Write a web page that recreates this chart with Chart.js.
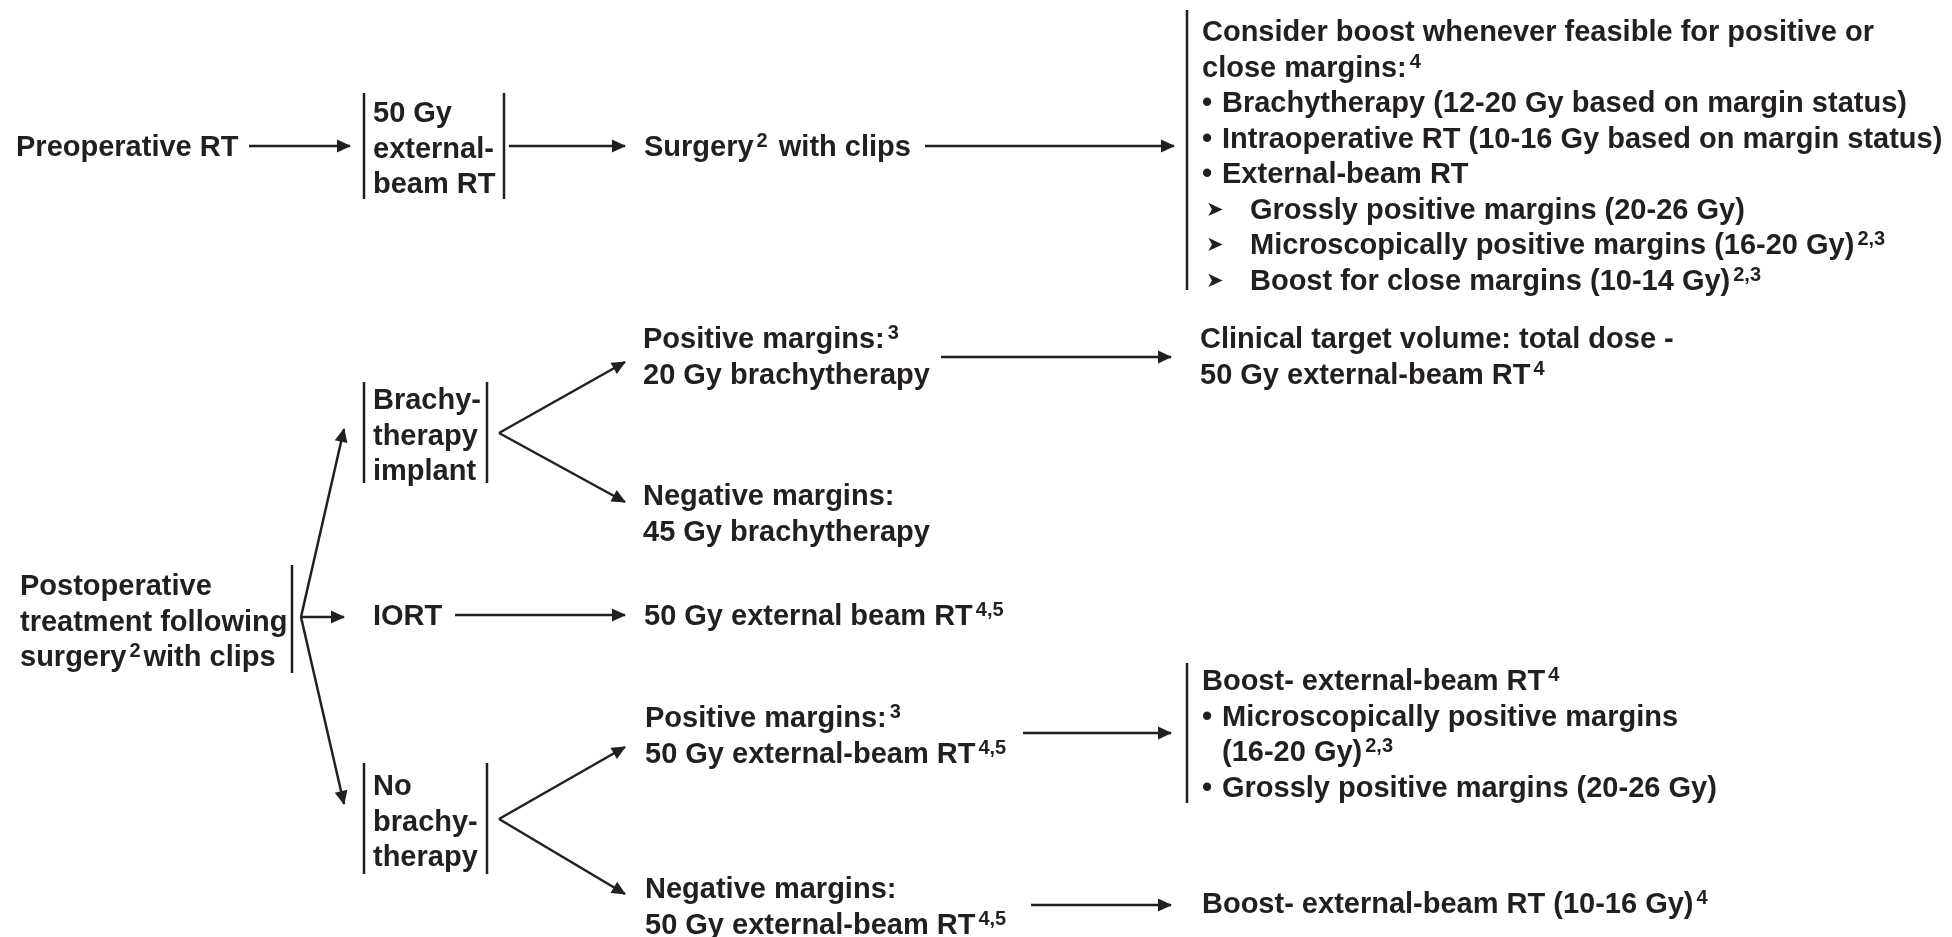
<!DOCTYPE html>
<html>
<head>
<meta charset="utf-8">
<script src="https://cdn.jsdelivr.net/npm/chart.js@4"></script>
<style>
  html, body { margin: 0; padding: 0; background: #fff; }
  canvas { display: block; }
</style>
</head>
<body>
<canvas id="flowChart" width="1952" height="937"></canvas>
<script>
// text of every node, one entry per node; ^{..} marks a superscript
const nodeText = [
    ['Preoperative RT'],
    ['50 Gy', 'external-', 'beam RT'],
    ['Surgery^{2} with clips'],
    ['Consider boost whenever feasible for positive or', 'close margins:^{4}',
     '• Brachytherapy (12-20 Gy based on margin status)',
     '• Intraoperative RT (10-16 Gy based on margin status)',
     '• External-beam RT',
     '➤ Grossly positive margins (20-26 Gy)',
     '➤ Microscopically positive margins (16-20 Gy)^{2,3}',
     '➤ Boost for close margins (10-14 Gy)^{2,3}'],
    ['Brachy-', 'therapy', 'implant'],
    ['Positive margins:^{3}', '20 Gy brachytherapy'],
    ['Clinical target volume: total dose -', '50 Gy external-beam RT^{4}'],
    ['Negative margins:', '45 Gy brachytherapy'],
    ['Postoperative', 'treatment following', 'surgery^{2}with clips'],
    ['IORT'],
    ['50 Gy external beam RT^{4,5}'],
    ['No', 'brachy-', 'therapy'],
    ['Positive margins:^{3}', '50 Gy external-beam RT^{4,5}'],
    ['Boost- external-beam RT^{4}', '• Microscopically positive margins', '  (16-20 Gy)^{2,3}',
     '• Grossly positive margins (20-26 Gy)'],
    ['Negative margins:', '50 Gy external-beam RT^{4,5}'],
    ['Boost- external-beam RT (10-16 Gy)^{4}']
];
// where each node's first line sits (chart units)
const nodeX = [16, 373, 644, 1202, 373, 643, 1200, 643, 20, 373, 644, 373, 645, 1202, 645, 1202];
const nodeY = [146, 112, 146, 31, 399, 338, 338, 495, 585, 615, 615, 785, 717, 680, 888, 903];

// arrows: start and end points
const arrowStart = [[249, 146], [509, 146], [925, 146], [301, 617], [301, 617], [301, 617],
    [499, 433], [499, 433], [941, 357], [455, 615], [499, 819], [499, 819], [1023, 733], [1031, 905]];
const arrowEnd = [[350, 146], [625, 146], [1174, 146], [344, 429], [344, 617], [344, 804],
    [625, 362], [625, 502], [1171, 357], [625, 615], [625, 747], [625, 894], [1171, 733], [1171, 905]];

// vertical bracket bars
const barX = [364, 504, 1187, 364, 487, 292, 364, 487, 1187];
const barTop = [93, 93, 10, 382, 382, 565, 763, 763, 663];
const barBottom = [199, 199, 290, 483, 483, 673, 874, 874, 803];

const ink = '#231f20';
const lineGap = 35.5;
const mainFont = 'bold 29px "Liberation Sans", Arial, Helvetica, sans-serif';
const supFont = 'bold 20px "Liberation Sans", Arial, Helvetica, sans-serif';
const markFont = '21px "DejaVu Sans", sans-serif';

const datasets = [];
arrowStart.forEach((s, i) => {
    datasets.push({
        label: 'arrow' + i,
        data: [{ x: s[0], y: s[1] }, { x: arrowEnd[i][0], y: arrowEnd[i][1] }],
        showLine: true, borderColor: ink, borderWidth: 2.5, pointRadius: 0, arrow: true
    });
});
barX.forEach((x, i) => {
    datasets.push({
        label: 'bar' + i,
        data: [{ x: x, y: barTop[i] }, { x: x, y: barBottom[i] }],
        showLine: true, borderColor: ink, borderWidth: 2.5, pointRadius: 0
    });
});

function drawRich(ctx, str, x, y) {
    const parts = str.split(/\^\{([^}]*)\}/);
    let cx = x;
    parts.forEach((p, k) => {
        if (k % 2 === 0) {
            ctx.font = mainFont;
            ctx.fillText(p, cx, y + 10);
            cx += ctx.measureText(p).width;
        } else {
            ctx.font = supFont;
            cx += 3;
            ctx.fillText(p, cx, y + 1);
            cx += ctx.measureText(p).width + 3;
        }
    });
}

const flowPlugin = {
    id: 'flow',
    afterDatasetsDraw(chart) {
        const ctx = chart.ctx;
        ctx.save();
        ctx.fillStyle = ink;
        // arrow heads at the end of each arrow line
        chart.data.datasets.forEach((ds, i) => {
            if (!ds.arrow) return;
            const pts = chart.getDatasetMeta(i).data;
            const a = pts[0], b = pts[1];
            const ang = Math.atan2(b.y - a.y, b.x - a.x);
            ctx.save();
            ctx.translate(b.x, b.y);
            ctx.rotate(ang);
            ctx.beginPath();
            ctx.moveTo(1, 0);
            ctx.lineTo(-13, -6.5);
            ctx.lineTo(-13, 6.5);
            ctx.closePath();
            ctx.fill();
            ctx.restore();
        });
        // node texts
        const xs = chart.scales.x, ys = chart.scales.y;
        ctx.textAlign = 'left';
        ctx.textBaseline = 'alphabetic';
        nodeText.forEach((lines, i) => {
            const px = xs.getPixelForValue(nodeX[i]);
            lines.forEach((line, j) => {
                const py = ys.getPixelForValue(nodeY[i] + j * lineGap);
                if (line.startsWith('• ')) {
                    ctx.font = mainFont;
                    ctx.fillText('•', px, py + 10);
                    drawRich(ctx, line.slice(2), px + 20, py);
                } else if (line.startsWith('➤ ')) {
                    ctx.font = markFont;
                    ctx.textBaseline = 'middle';
                    ctx.fillText('➤', px + 4, py + 2);
                    ctx.textBaseline = 'alphabetic';
                    drawRich(ctx, line.slice(2), px + 48, py);
                } else if (line.startsWith('  ')) {
                    drawRich(ctx, line.slice(2), px + 20, py);
                } else {
                    drawRich(ctx, line, px, py);
                }
            });
        });
        ctx.restore();
    }
};

new Chart(document.getElementById('flowChart'), {
    type: 'scatter',
    data: { datasets: datasets },
    options: {
        responsive: false,
        animation: false,
        events: [],
        layout: { padding: 0 },
        plugins: { legend: { display: false }, tooltip: { enabled: false } },
        scales: {
            x: { type: 'linear', min: 0, max: 1952, display: false },
            y: { type: 'linear', min: 0, max: 937, reverse: true, display: false }
        }
    },
    plugins: [flowPlugin]
});
</script>
</body>
</html>
